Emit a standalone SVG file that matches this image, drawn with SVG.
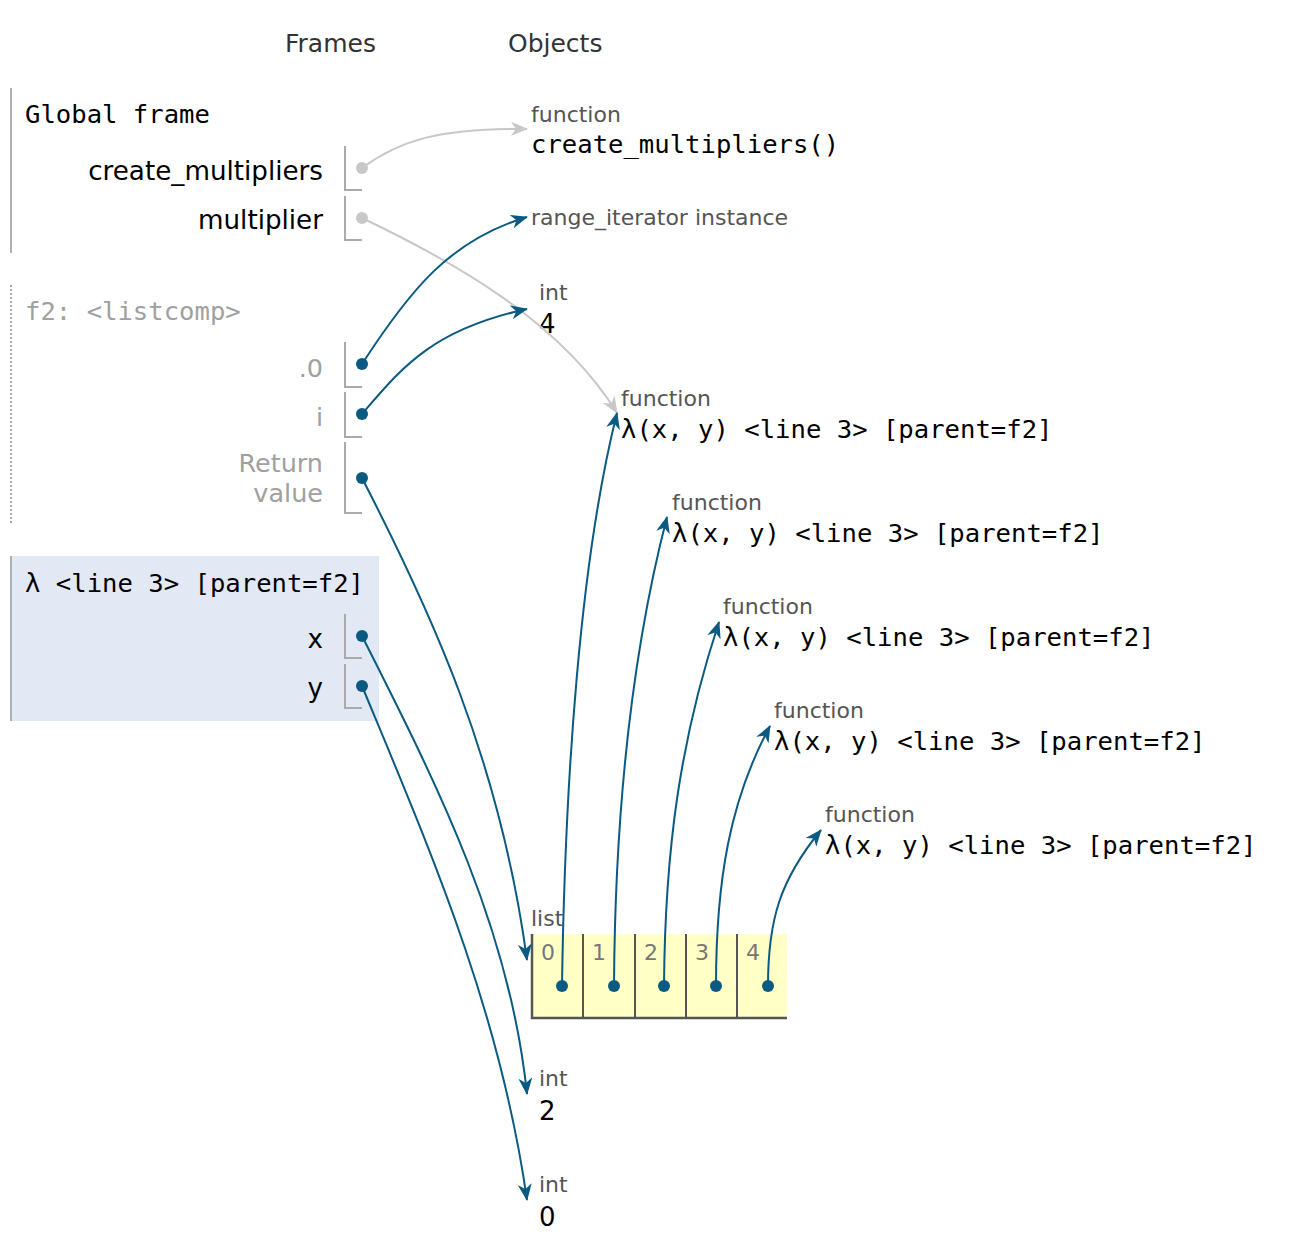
<svg xmlns="http://www.w3.org/2000/svg" width="1294" height="1254" viewBox="0 0 1294 1254">
  <style>
    .hdr { font-family: "DejaVu Sans", Verdana, sans-serif; font-size: 25px; fill: #333333; }
    .ftitle { font-family: "DejaVu Sans Mono", "Liberation Mono", monospace; font-size: 25.6px; fill: #000000; }
    .ftitle-dim { font-family: "DejaVu Sans Mono", "Liberation Mono", monospace; font-size: 25.6px; fill: #a0a0a0; }
    .var { font-family: "DejaVu Sans", Verdana, sans-serif; font-size: 26.2px; fill: #000000; text-anchor: end; }
    .var-dim { font-family: "DejaVu Sans", Verdana, sans-serif; font-size: 25.5px; fill: #a0a0a0; text-anchor: end; }
    .type { font-family: "DejaVu Sans", Verdana, sans-serif; font-size: 22px; fill: #555555; }
    .code { font-family: "DejaVu Sans Mono", "Liberation Mono", monospace; font-size: 25.6px; fill: #000000; }
    .val { font-family: "DejaVu Sans", Verdana, sans-serif; font-size: 26px; fill: #000000; }
    .idx { font-family: "DejaVu Sans", Verdana, sans-serif; font-size: 22px; fill: #777777; }
    .slot { fill: none; stroke: #aaaaaa; stroke-width: 2; }
    .edge { fill: none; stroke: #0b5a82; stroke-width: 2; }
    .edge-dim { fill: none; stroke: #c8c8c8; stroke-width: 2; }
    .dot { fill: #0b5a82; }
    .dot-dim { fill: #c8c8c8; }
  </style>
  <defs>
    <marker id="arrow" viewBox="0 0 17 14" refX="16" refY="7" markerWidth="17" markerHeight="14" markerUnits="userSpaceOnUse" orient="auto">
      <path d="M0,0 L17,7 L0,14 L5,7 z" fill="#0b5a82"/>
    </marker>
    <marker id="arrow-dim" viewBox="0 0 17 14" refX="16" refY="7" markerWidth="17" markerHeight="14" markerUnits="userSpaceOnUse" orient="auto">
      <path d="M0,0 L17,7 L0,14 L5,7 z" fill="#c8c8c8"/>
    </marker>
  </defs>

  <rect width="1294" height="1254" fill="#ffffff"/>

  <!-- column headers -->
  <text class="hdr" x="285" y="52">Frames</text>
  <text class="hdr" x="508" y="52">Objects</text>

  <!-- global frame -->
  <g id="global-frame">
    <line x1="11" y1="88" x2="11" y2="253" stroke="#aab2b8" stroke-width="2"/>
    <text class="ftitle" x="25" y="123">Global frame</text>
    <text class="var" x="323" y="180">create_multipliers</text>
    <path class="slot" d="M345,146 V190 H362"/>
    <circle class="dot-dim" cx="362" cy="168" r="6"/>
    <text class="var" x="323" y="229">multiplier</text>
    <path class="slot" d="M345,196 V240 H362"/>
    <circle class="dot-dim" cx="362" cy="218" r="6"/>
  </g>

  <!-- f2 listcomp frame -->
  <g id="frame-f2">
    <line x1="11" y1="285" x2="11" y2="525" stroke="#aaaaaa" stroke-width="2" stroke-dasharray="2,2"/>
    <text class="ftitle-dim" x="25" y="320">f2: &lt;listcomp&gt;</text>
    <text class="var-dim" x="323" y="377">.0</text>
    <path class="slot" d="M345,342 V387 H362"/>
    <circle class="dot" cx="362" cy="364" r="6"/>
    <text class="var-dim" x="323" y="426">i</text>
    <path class="slot" d="M345,392 V437 H362"/>
    <circle class="dot" cx="362" cy="414" r="6"/>
    <text class="var-dim" x="323" y="472">Return</text>
    <text class="var-dim" x="323" y="502">value</text>
    <path class="slot" d="M345,442 V513 H362"/>
    <circle class="dot" cx="362" cy="478" r="6"/>
  </g>

  <!-- lambda frame (active) -->
  <g id="frame-lambda">
    <rect x="10" y="556" width="369" height="165" fill="#e2e9f5"/>
    <line x1="11" y1="556" x2="11" y2="721" stroke="#aab2b8" stroke-width="2"/>
    <text class="ftitle" x="25" y="592">λ &lt;line 3&gt; [parent=f2]</text>
    <text class="var" x="323" y="648">x</text>
    <path class="slot" d="M345,614 V658 H362"/>
    <circle class="dot" cx="362" cy="636" r="6"/>
    <text class="var" x="323" y="697">y</text>
    <path class="slot" d="M345,664 V708 H362"/>
    <circle class="dot" cx="362" cy="686" r="6"/>
  </g>

  <!-- heap objects -->
  <g id="obj-create-multipliers">
    <text class="type" x="531" y="122">function</text>
    <text class="code" x="531" y="153">create_multipliers()</text>
  </g>
  <g id="obj-range-iterator">
    <text class="type" x="531" y="225">range_iterator instance</text>
  </g>
  <g id="obj-int-4">
    <text class="type" x="539" y="300">int</text>
    <text class="val" x="539" y="333">4</text>
  </g>
  <g id="obj-lambda-1">
    <text class="type" x="621" y="406">function</text>
    <text class="code" x="621" y="438">λ(x, y) &lt;line 3&gt; [parent=f2]</text>
  </g>
  <g id="obj-lambda-2">
    <text class="type" x="672" y="510">function</text>
    <text class="code" x="672" y="542">λ(x, y) &lt;line 3&gt; [parent=f2]</text>
  </g>
  <g id="obj-lambda-3">
    <text class="type" x="723" y="614">function</text>
    <text class="code" x="723" y="646">λ(x, y) &lt;line 3&gt; [parent=f2]</text>
  </g>
  <g id="obj-lambda-4">
    <text class="type" x="774" y="718">function</text>
    <text class="code" x="774" y="750">λ(x, y) &lt;line 3&gt; [parent=f2]</text>
  </g>
  <g id="obj-lambda-5">
    <text class="type" x="825" y="822">function</text>
    <text class="code" x="825" y="854">λ(x, y) &lt;line 3&gt; [parent=f2]</text>
  </g>

  <g id="obj-list">
    <text class="type" x="531" y="926">list</text>
    <rect x="531" y="934" width="256" height="84" fill="#ffffc6"/>
    <path d="M532,934 V1018 H787" fill="none" stroke="#555555" stroke-width="2.5"/>
    <path d="M583,934 V1018 M635,934 V1018 M686,934 V1018 M737,934 V1018" fill="none" stroke="#555555" stroke-width="2"/>
    <text class="idx" x="541" y="960">0</text>
    <text class="idx" x="592" y="960">1</text>
    <text class="idx" x="644" y="960">2</text>
    <text class="idx" x="695" y="960">3</text>
    <text class="idx" x="746" y="960">4</text>
    <circle class="dot" cx="562" cy="986" r="6"/>
    <circle class="dot" cx="614" cy="986" r="6"/>
    <circle class="dot" cx="664" cy="986" r="6"/>
    <circle class="dot" cx="716" cy="986" r="6"/>
    <circle class="dot" cx="768" cy="986" r="6"/>
  </g>

  <g id="obj-int-2">
    <text class="type" x="539" y="1086">int</text>
    <text class="val" x="539" y="1120">2</text>
  </g>
  <g id="obj-int-0">
    <text class="type" x="539" y="1192">int</text>
    <text class="val" x="539" y="1226">0</text>
  </g>

  <!-- references -->
  <g id="connectors">
    <path class="edge-dim" d="M362,168 C400,140 440,128 527,129" marker-end="url(#arrow-dim)"/>
    <path class="edge-dim" d="M362,218 C450,260 560,320 617,413" marker-end="url(#arrow-dim)"/>
    <path class="edge" d="M362,364 C410,290 450,240 527,217" marker-end="url(#arrow)"/>
    <path class="edge" d="M362,414 C400,370 430,330 527,309" marker-end="url(#arrow)"/>
    <path class="edge" d="M362,478 C430,610 500,760 527,960" marker-end="url(#arrow)"/>
    <path class="edge" d="M362,636 C440,790 510,930 527,1094" marker-end="url(#arrow)"/>
    <path class="edge" d="M362,686 C430,850 500,1010 527,1200" marker-end="url(#arrow)"/>
    <path class="edge" d="M562,986 C565,780 580,560 617,413" marker-end="url(#arrow)"/>
    <path class="edge" d="M614,986 C615,820 630,660 667,517" marker-end="url(#arrow)"/>
    <path class="edge" d="M664,986 C665,850 680,740 719,622" marker-end="url(#arrow)"/>
    <path class="edge" d="M716,986 C716,880 730,800 770,726" marker-end="url(#arrow)"/>
    <path class="edge" d="M768,986 C768,920 780,880 821,830" marker-end="url(#arrow)"/>
  </g>
</svg>
